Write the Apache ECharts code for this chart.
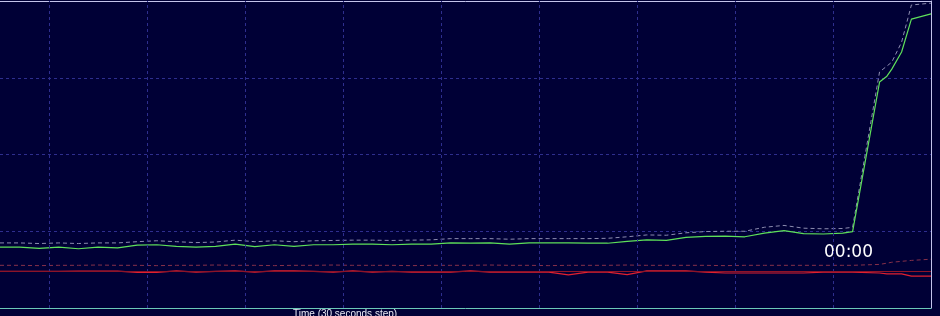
<!DOCTYPE html>
<html>
<head>
<meta charset="utf-8">
<script src="https://cdn.jsdelivr.net/npm/echarts@6.0.0/dist/echarts.min.js"></script>
<style>
html,body{margin:0;padding:0;background:#000036;overflow:hidden;}
#c{width:940px;height:316px;}
</style>
</head>
<body>
<div id="c"></div>
<script>
// sample index (30 seconds step)
const samples = [10,14,18,22,26,30,34,38,42,46,50,54,58,62,66,70,74,78,82,86,90,94,98,102,106,110,114,118,122,126,130,134,138,142,146,150,154,158,162,166,170,174,178,182,184,189.5,191,192,194,196,200];
const gridTicks = [20,40,60,80,100,120,140,160,180];
const greenVals = [19.8,19.8,19.4,19.8,19.3,19.8,19.6,20.5,20.6,20.1,19.8,20.1,20.8,20.0,20.6,20.1,20.6,20.6,20.8,20.8,20.6,20.8,20.8,21.2,21.1,21.2,20.8,21.2,21.2,21.2,21.1,21.1,21.7,22.2,22.0,23.0,23.3,23.4,23.2,24.4,25.2,24.2,24.1,24.4,24.9,73.6,75.5,77.8,83.4,94.1,95.8];
const greenMax = [21.2,21.2,21.0,21.2,21.0,21.2,21.2,21.6,21.9,21.6,21.3,21.5,22.1,21.6,21.9,21.6,21.9,22.0,22.1,22.1,22.0,22.1,22.2,22.6,22.6,22.6,22.4,22.6,22.6,22.6,22.6,22.7,23.2,23.8,23.7,24.5,24.9,25.0,25.0,26.3,26.9,26.0,25.8,25.9,26.3,76.9,78.8,80.1,86.6,98.7,99.3];
const redVals = [11.9,11.9,11.9,11.9,12.0,12.0,12.0,11.6,11.6,12.1,11.7,11.9,12.1,11.7,12.1,12.1,11.9,11.7,12.1,11.7,11.9,11.7,11.7,11.7,12.1,11.7,11.7,11.7,11.7,10.8,11.7,11.7,10.9,12.1,12.1,12.1,11.7,11.4,11.4,11.4,11.4,11.4,11.7,11.7,11.7,11.4,11.1,11.1,11.1,10.4,10.4];
const redMax = [13.9,13.9,13.8,13.9,13.9,14.0,13.9,13.9,13.8,13.9,13.9,14.0,13.9,13.9,13.8,13.9,13.9,14.0,13.9,13.9,13.9,13.8,13.9,13.9,13.9,14.0,13.9,13.9,13.8,13.9,13.9,13.9,14.0,13.9,13.9,13.9,13.9,13.8,13.9,13.9,13.9,13.9,13.9,13.9,13.9,14.2,14.6,14.9,15.2,15.5,15.9];
const redLevel = 12.0;
const timeLabel = '00:00';
const axisTitle = 'Time (30 seconds step)';

function pairs(vals){ return samples.map((s,i)=>[s, vals[i]]); }

const chart = echarts.init(document.getElementById('c'), null, {renderer:'canvas'});
const gridColor = '#2e2e8e';
chart.setOption({
  animation:false,
  backgroundColor:'#000036',
  grid:{left:0, right:9, top:1, bottom:8, show:false},
  xAxis:[
    {type:'value', min:10, max:200, position:'bottom',
     axisLine:{show:true, onZero:false, lineStyle:{color:'#6cc8b8', width:1}},
     axisTick:{show:false}, axisLabel:{show:false}, splitLine:{show:false}},
    {type:'value', min:10, max:200, position:'top',
     axisLine:{show:true, onZero:false, lineStyle:{color:'#c4c4ec', width:1}},
     axisTick:{show:false}, axisLabel:{show:false}, splitLine:{show:false}}
  ],
  yAxis:[
    {type:'value', min:0, max:100, interval:25, position:'left',
     axisLine:{show:false}, axisTick:{show:false}, axisLabel:{show:false},
     splitLine:{show:true, lineStyle:{color:gridColor, type:[3,3], width:1}}},
    {type:'value', min:0, max:100, interval:25, position:'right',
     axisLine:{show:true, onZero:false, lineStyle:{color:'#c4c4ec', width:1}},
     axisTick:{show:false}, axisLabel:{show:false}, splitLine:{show:false}}
  ],
  series:[
    {type:'line', data:[], symbol:'none', silent:true,
     markLine:{silent:true, symbol:'none', label:{show:false}, animation:false,
       lineStyle:{color:gridColor, width:1, type:[3,3]},
       data:gridTicks.map(v=>({xAxis:v}))}},
    {type:'line', data:pairs(greenMax), symbol:'none', silent:true,
     lineStyle:{color:'#8c8cb0', width:1, type:[4,3]}},
    {type:'line', data:pairs(redMax), symbol:'none', silent:true,
     lineStyle:{color:'#86304a', width:1, type:[4,3]}},
    {type:'line', data:[], symbol:'none', silent:true,
     markLine:{silent:true, symbol:'none', label:{show:false}, animation:false,
       lineStyle:{color:'#8c1428', width:1, type:'solid'},
       data:[{yAxis:redLevel}]}},
    {type:'line', data:pairs(redVals), symbol:'none', silent:true,
     lineStyle:{color:'#e02030', width:1.2}},
    {type:'line', data:pairs(greenVals), symbol:'none', silent:true,
     lineStyle:{color:'#5ee05a', width:1.2}}
  ],
  graphic:[
    {type:'text', left:824, top:244, silent:true,
     style:{text:timeLabel, fill:'#ffffff', font:'17px "DejaVu Sans"'}},
    {type:'text', left:293, top:309, silent:true,
     style:{text:axisTitle, fill:'#e8e8f4', font:'10px "Liberation Sans"'}}
  ]
});
</script>
</body>
</html>
